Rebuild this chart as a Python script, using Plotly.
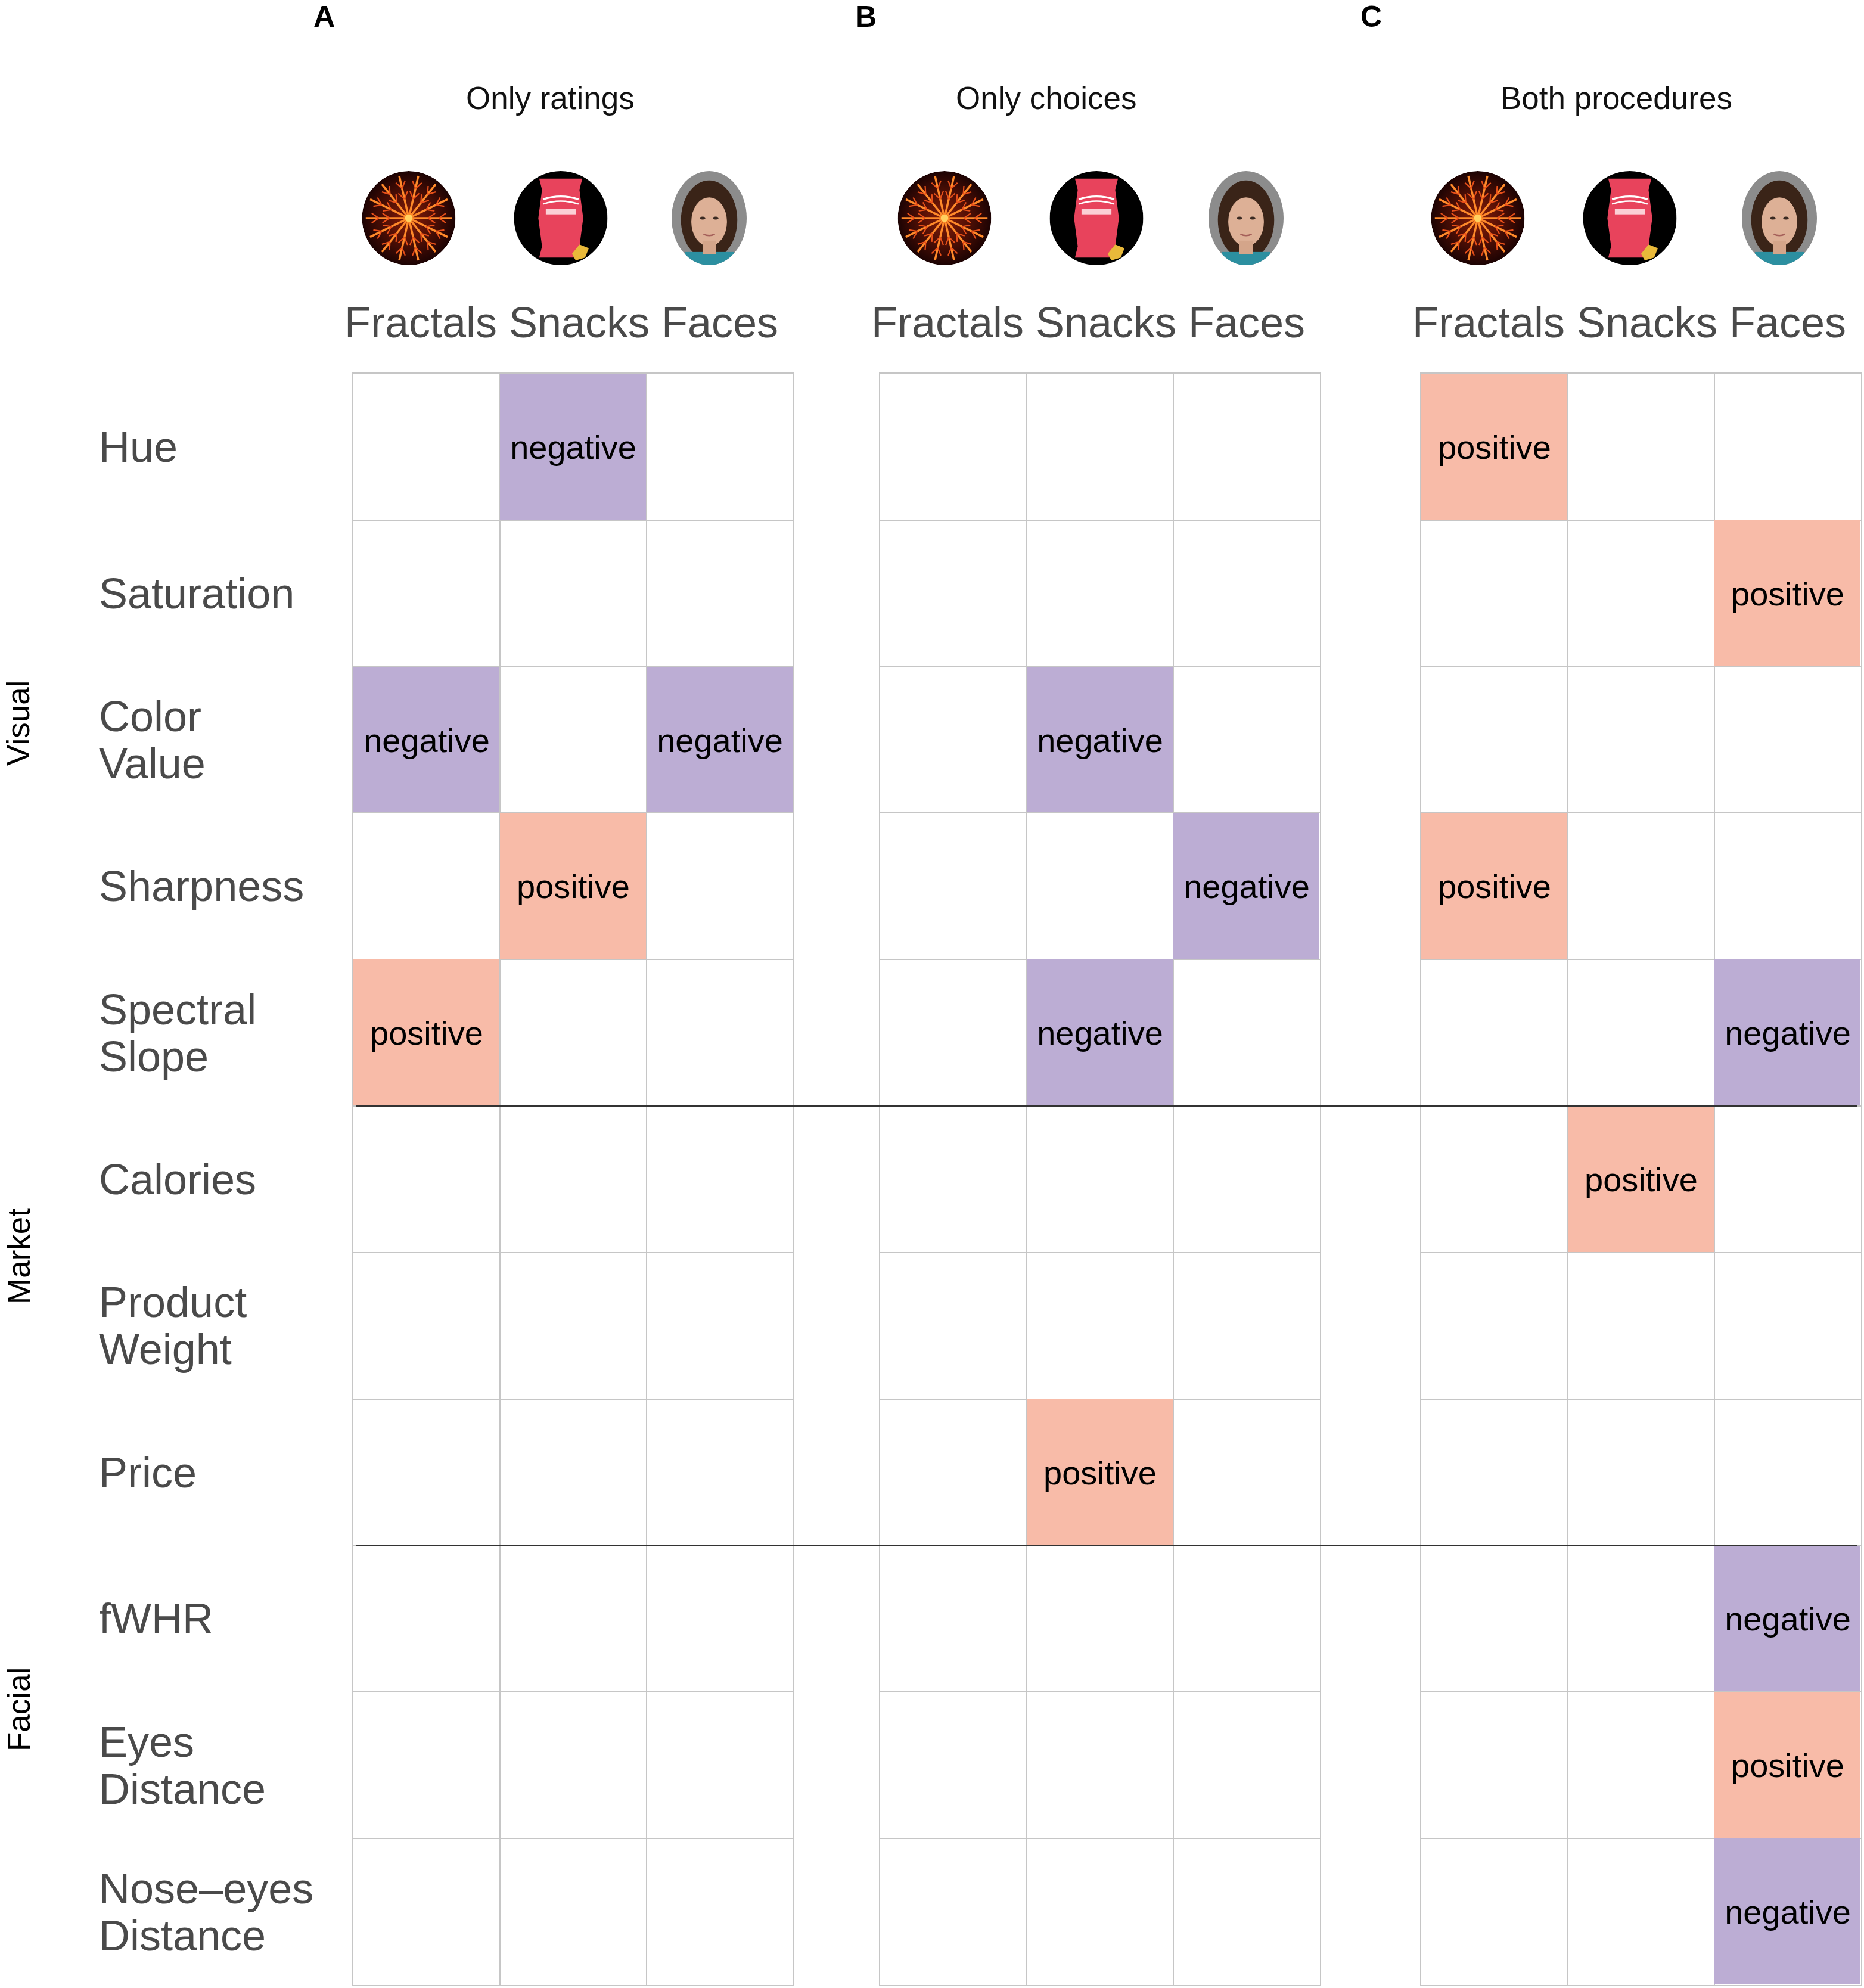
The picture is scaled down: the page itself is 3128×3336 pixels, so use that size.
import base64
import math
import plotly.graph_objects as go

# ---------------- data ----------------
features = ["Hue", "Saturation", "Color Value", "Sharpness", "Spectral Slope",
            "Calories", "Product Weight", "Price",
            "fWHR", "Eyes Distance", "Nose\u2013eyes Distance"]
feature_lines = [["Hue"], ["Saturation"], ["Color", "Value"], ["Sharpness"], ["Spectral", "Slope"],
                 ["Calories"], ["Product", "Weight"], ["Price"],
                 ["fWHR"], ["Eyes", "Distance"], ["Nose\u2013eyes", "Distance"]]
categories = ["Fractals", "Snacks", "Faces"]
groups = ["Visual", "Market", "Facial"]
group_sizes = [5, 3, 3]
panel_letters = ["A", "B", "C"]
panel_titles = ["Only ratings", "Only choices", "Both procedures"]

# +1 = positive, -1 = negative, 0 = not significant  (rows = features, cols = categories)
only_ratings = [[0, -1, 0], [0, 0, 0], [-1, 0, -1], [0, 1, 0], [1, 0, 0],
                [0, 0, 0], [0, 0, 0], [0, 0, 0], [0, 0, 0], [0, 0, 0], [0, 0, 0]]
only_choices = [[0, 0, 0], [0, 0, 0], [0, -1, 0], [0, 0, -1], [0, -1, 0],
                [0, 0, 0], [0, 0, 0], [0, 1, 0], [0, 0, 0], [0, 0, 0], [0, 0, 0]]
both_procedures = [[1, 0, 0], [0, 0, 1], [0, 0, 0], [1, 0, 0], [0, 0, -1],
                   [0, 1, 0], [0, 0, 0], [0, 0, 0], [0, 0, -1], [0, 0, 1], [0, 0, -1]]
panels = [only_ratings, only_choices, both_procedures]

# ---------------- style ----------------
W, H = 3128, 3336
PURPLE = "#BCADD4"
SALMON = "#F8BBA8"
GRID = "#C6C6C6"
LABEL_GREY = "#4A4A4A"
FONT = "Liberation Sans, Arial, Helvetica, sans-serif"

panel_left_px = [593, 1477, 2385]
panel_w_px = 738
grid_top_px, grid_bot_px = 627, 3331

def px_x(p):
    return p / W

def px_y(p):
    return 1 - p / H

n_rows = len(features)
n_cols = len(categories)
# small padding so the wide labels do not collide (as in the original layout)
tick_text = [categories[0] + "\u00a0", "\u00a0" + categories[1], categories[2]]

fig = go.Figure()

for i, vals in enumerate(panels):
    z = [[(v if v != 0 else None) for v in row] for row in vals]
    txt = [[("positive" if v > 0 else "negative" if v < 0 else "") for v in row] for row in vals]
    xa = "x" if i == 0 else f"x{i+1}"
    ya = "y" if i == 0 else f"y{i+1}"
    fig.add_trace(go.Heatmap(
        z=z, x=list(range(n_cols)), y=list(range(n_rows)), text=txt,
        texttemplate="%{text}", textfont=dict(size=56, color="black", family=FONT),
        colorscale=[[0, PURPLE], [1, SALMON]], zmin=-1, zmax=1, showscale=False,
        hoverinfo="skip", xaxis=xa, yaxis=ya, xgap=1, ygap=1))
    l = px_x(panel_left_px[i])
    r = px_x(panel_left_px[i] + panel_w_px)
    xkey = "xaxis" if i == 0 else f"xaxis{i+1}"
    ykey = "yaxis" if i == 0 else f"yaxis{i+1}"
    fig.layout[xkey] = dict(
        domain=[l, r], range=[-0.5, n_cols - 0.5], side="top", anchor=ya,
        tickmode="array", tickvals=list(range(n_cols)), ticktext=tick_text,
        tickangle=0, automargin=False,
        ticks="outside", ticklen=30, tickcolor="rgba(0,0,0,0)",
        tickfont=dict(size=72, color=LABEL_GREY, family=FONT),
        showgrid=False, zeroline=False, showline=True, mirror=True,
        linecolor=GRID, linewidth=2,
        minor=dict(tickmode="array", tickvals=[k + 0.5 for k in range(-1, n_cols)],
                   showgrid=True, gridcolor=GRID, gridwidth=2, ticks=""),
        fixedrange=True)
    fig.layout[ykey] = dict(
        domain=[px_y(grid_bot_px), px_y(grid_top_px)], range=[n_rows - 0.5, -0.5],
        anchor=xa, showticklabels=False, ticks="", showgrid=False, zeroline=False,
        automargin=False,
        showline=True, mirror=True, linecolor=GRID, linewidth=2,
        minor=dict(tickmode="array", tickvals=[k + 0.5 for k in range(-1, n_rows)],
                   showgrid=True, gridcolor=GRID, gridwidth=2, ticks=""),
        fixedrange=True)

# group separator lines
cum = 0
for s in group_sizes[:-1]:
    cum += s
    fig.add_shape(type="line", xref="paper", yref="y", x0=px_x(597), x1=px_x(3117),
                  y0=cum - 0.5, y1=cum - 0.5, line=dict(color="#333333", width=3))

annotations = []
# row labels
line_gap = 79
for r, lines in enumerate(feature_lines):
    n = len(lines)
    for k, t in enumerate(lines):
        shift = ((n - 1) / 2 - k) * line_gap
        annotations.append(dict(text=t, xref="paper", yref="y", x=px_x(164), y=r,
                                xanchor="left", yanchor="middle", yshift=shift, showarrow=False,
                                font=dict(size=72, color=LABEL_GREY, family=FONT)))
# group labels
group_y_px = [1214, 2108, 2869]
for g, gy in zip(groups, group_y_px):
    annotations.append(dict(text=g, xref="paper", yref="paper", x=px_x(31), y=px_y(gy),
                            xanchor="center", yanchor="middle", textangle=-90, showarrow=False,
                            font=dict(size=53, color="black", family=FONT)))
# panel titles & letters
title_x_px = [924, 1755, 2712]
letter_x_px = [544, 1453, 2301]
for t, tx in zip(panel_titles, title_x_px):
    annotations.append(dict(text=t, xref="paper", yref="paper", x=px_x(tx), y=px_y(164),
                            xanchor="center", yanchor="middle", showarrow=False,
                            font=dict(size=53, color="#111111", family=FONT)))
for t, lx in zip(panel_letters, letter_x_px):
    annotations.append(dict(text=f"<b>{t}</b>", xref="paper", yref="paper", x=px_x(lx), y=px_y(28),
                            xanchor="center", yanchor="middle", showarrow=False,
                            font=dict(size=50, color="black", family=FONT)))

# ---------------- icons (decorative) ----------------
def svg_uri(s):
    return "data:image/svg+xml;base64," + base64.b64encode(s.encode()).decode()

rays = ""
for k in range(14):
    a = 2 * math.pi * k / 14
    x2, y2 = 50 + 46 * math.cos(a), 50 + 46 * math.sin(a)
    rays += f'<line x1="50" y1="50" x2="{x2:.1f}" y2="{y2:.1f}" stroke="#ff8a2a" stroke-width="2.2"/>'
    for f in (0.45, 0.7):
        bx, by = 50 + 46 * f * math.cos(a), 50 + 46 * f * math.sin(a)
        for d in (-0.6, 0.6):
            ex, ey = bx + 9 * math.cos(a + d), by + 9 * math.sin(a + d)
            rays += f'<line x1="{bx:.1f}" y1="{by:.1f}" x2="{ex:.1f}" y2="{ey:.1f}" stroke="#e8501a" stroke-width="1.4"/>'
fractal_svg = ('<svg xmlns="http://www.w3.org/2000/svg" viewBox="0 0 100 100">'
               '<defs><radialGradient id="g"><stop offset="0" stop-color="#8a1d08"/>'
               '<stop offset="1" stop-color="#1c0303"/></radialGradient>'
               '<clipPath id="c"><circle cx="50" cy="50" r="50"/></clipPath></defs>'
               '<g clip-path="url(#c)"><circle cx="50" cy="50" r="50" fill="url(#g)"/>' + rays +
               '<circle cx="50" cy="50" r="4" fill="#ffd060"/></g></svg>')
chips_svg = ('<svg xmlns="http://www.w3.org/2000/svg" viewBox="0 0 100 100">'
             '<circle cx="50" cy="50" r="50" fill="#000"/>'
             '<path d="M27 8 L73 8 L70 20 L74 50 L70 80 L73 92 L27 92 L30 80 L26 50 L30 20 Z" fill="#e8435c"/>'
             '<path d="M31 30 Q50 24 69 30" stroke="#fff" stroke-width="2" fill="none"/>'
             '<path d="M31 35 Q50 29 69 35" stroke="#fff" stroke-width="1.5" fill="none"/>'
             '<rect x="34" y="40" width="32" height="6" fill="#fbd0d6"/>'
             '<polygon points="62,88 70,78 80,82 76,92 66,95" fill="#e9b93a"/></svg>')
face_svg = ('<svg xmlns="http://www.w3.org/2000/svg" viewBox="0 0 80 100">'
            '<defs><clipPath id="c"><ellipse cx="40" cy="50" rx="40" ry="50"/></clipPath></defs>'
            '<g clip-path="url(#c)"><rect width="80" height="100" fill="#8c8c8c"/>'
            '<ellipse cx="40" cy="52" rx="30" ry="42" fill="#3a2418"/>'
            '<rect x="14" y="86" width="52" height="20" fill="#2c8fa0"/>'
            '<ellipse cx="40" cy="54" rx="19" ry="26" fill="#ddb096"/>'
            '<rect x="33" y="74" width="14" height="14" fill="#d4a58a"/>'
            '<ellipse cx="33" cy="50" rx="3" ry="1.6" fill="#3a2a22"/>'
            '<ellipse cx="47" cy="50" rx="3" ry="1.6" fill="#3a2a22"/>'
            '<path d="M34 67 Q40 70 46 67" stroke="#a5605a" stroke-width="1.6" fill="none"/></g></svg>')
icon_sources = [svg_uri(fractal_svg), svg_uri(chips_svg), svg_uri(face_svg)]
icon_w_px = [157, 157, 126]
icon_h_px = 158
icon_center_y_px = 366
icon_x_px = [[686, 941, 1190], [1585, 1840, 2091], [2480, 2735, 2986]]
images = []
for p in range(3):
    for c in range(3):
        images.append(dict(source=icon_sources[c], xref="paper", yref="paper",
                           x=px_x(icon_x_px[p][c]), y=px_y(icon_center_y_px),
                           sizex=icon_w_px[c] / W, sizey=icon_h_px / H,
                           xanchor="center", yanchor="middle", sizing="stretch", layer="above"))

fig.update_layout(width=W, height=H, autosize=False,
                  margin=dict(l=0, r=0, t=0, b=0, pad=0, autoexpand=False),
                  paper_bgcolor="white", plot_bgcolor="white",
                  annotations=annotations, images=images, showlegend=False,
                  font=dict(family=FONT))

fig.write_html("out.html", config={"displayModeBar": False},
               post_script="document.body.style.margin='0';")
